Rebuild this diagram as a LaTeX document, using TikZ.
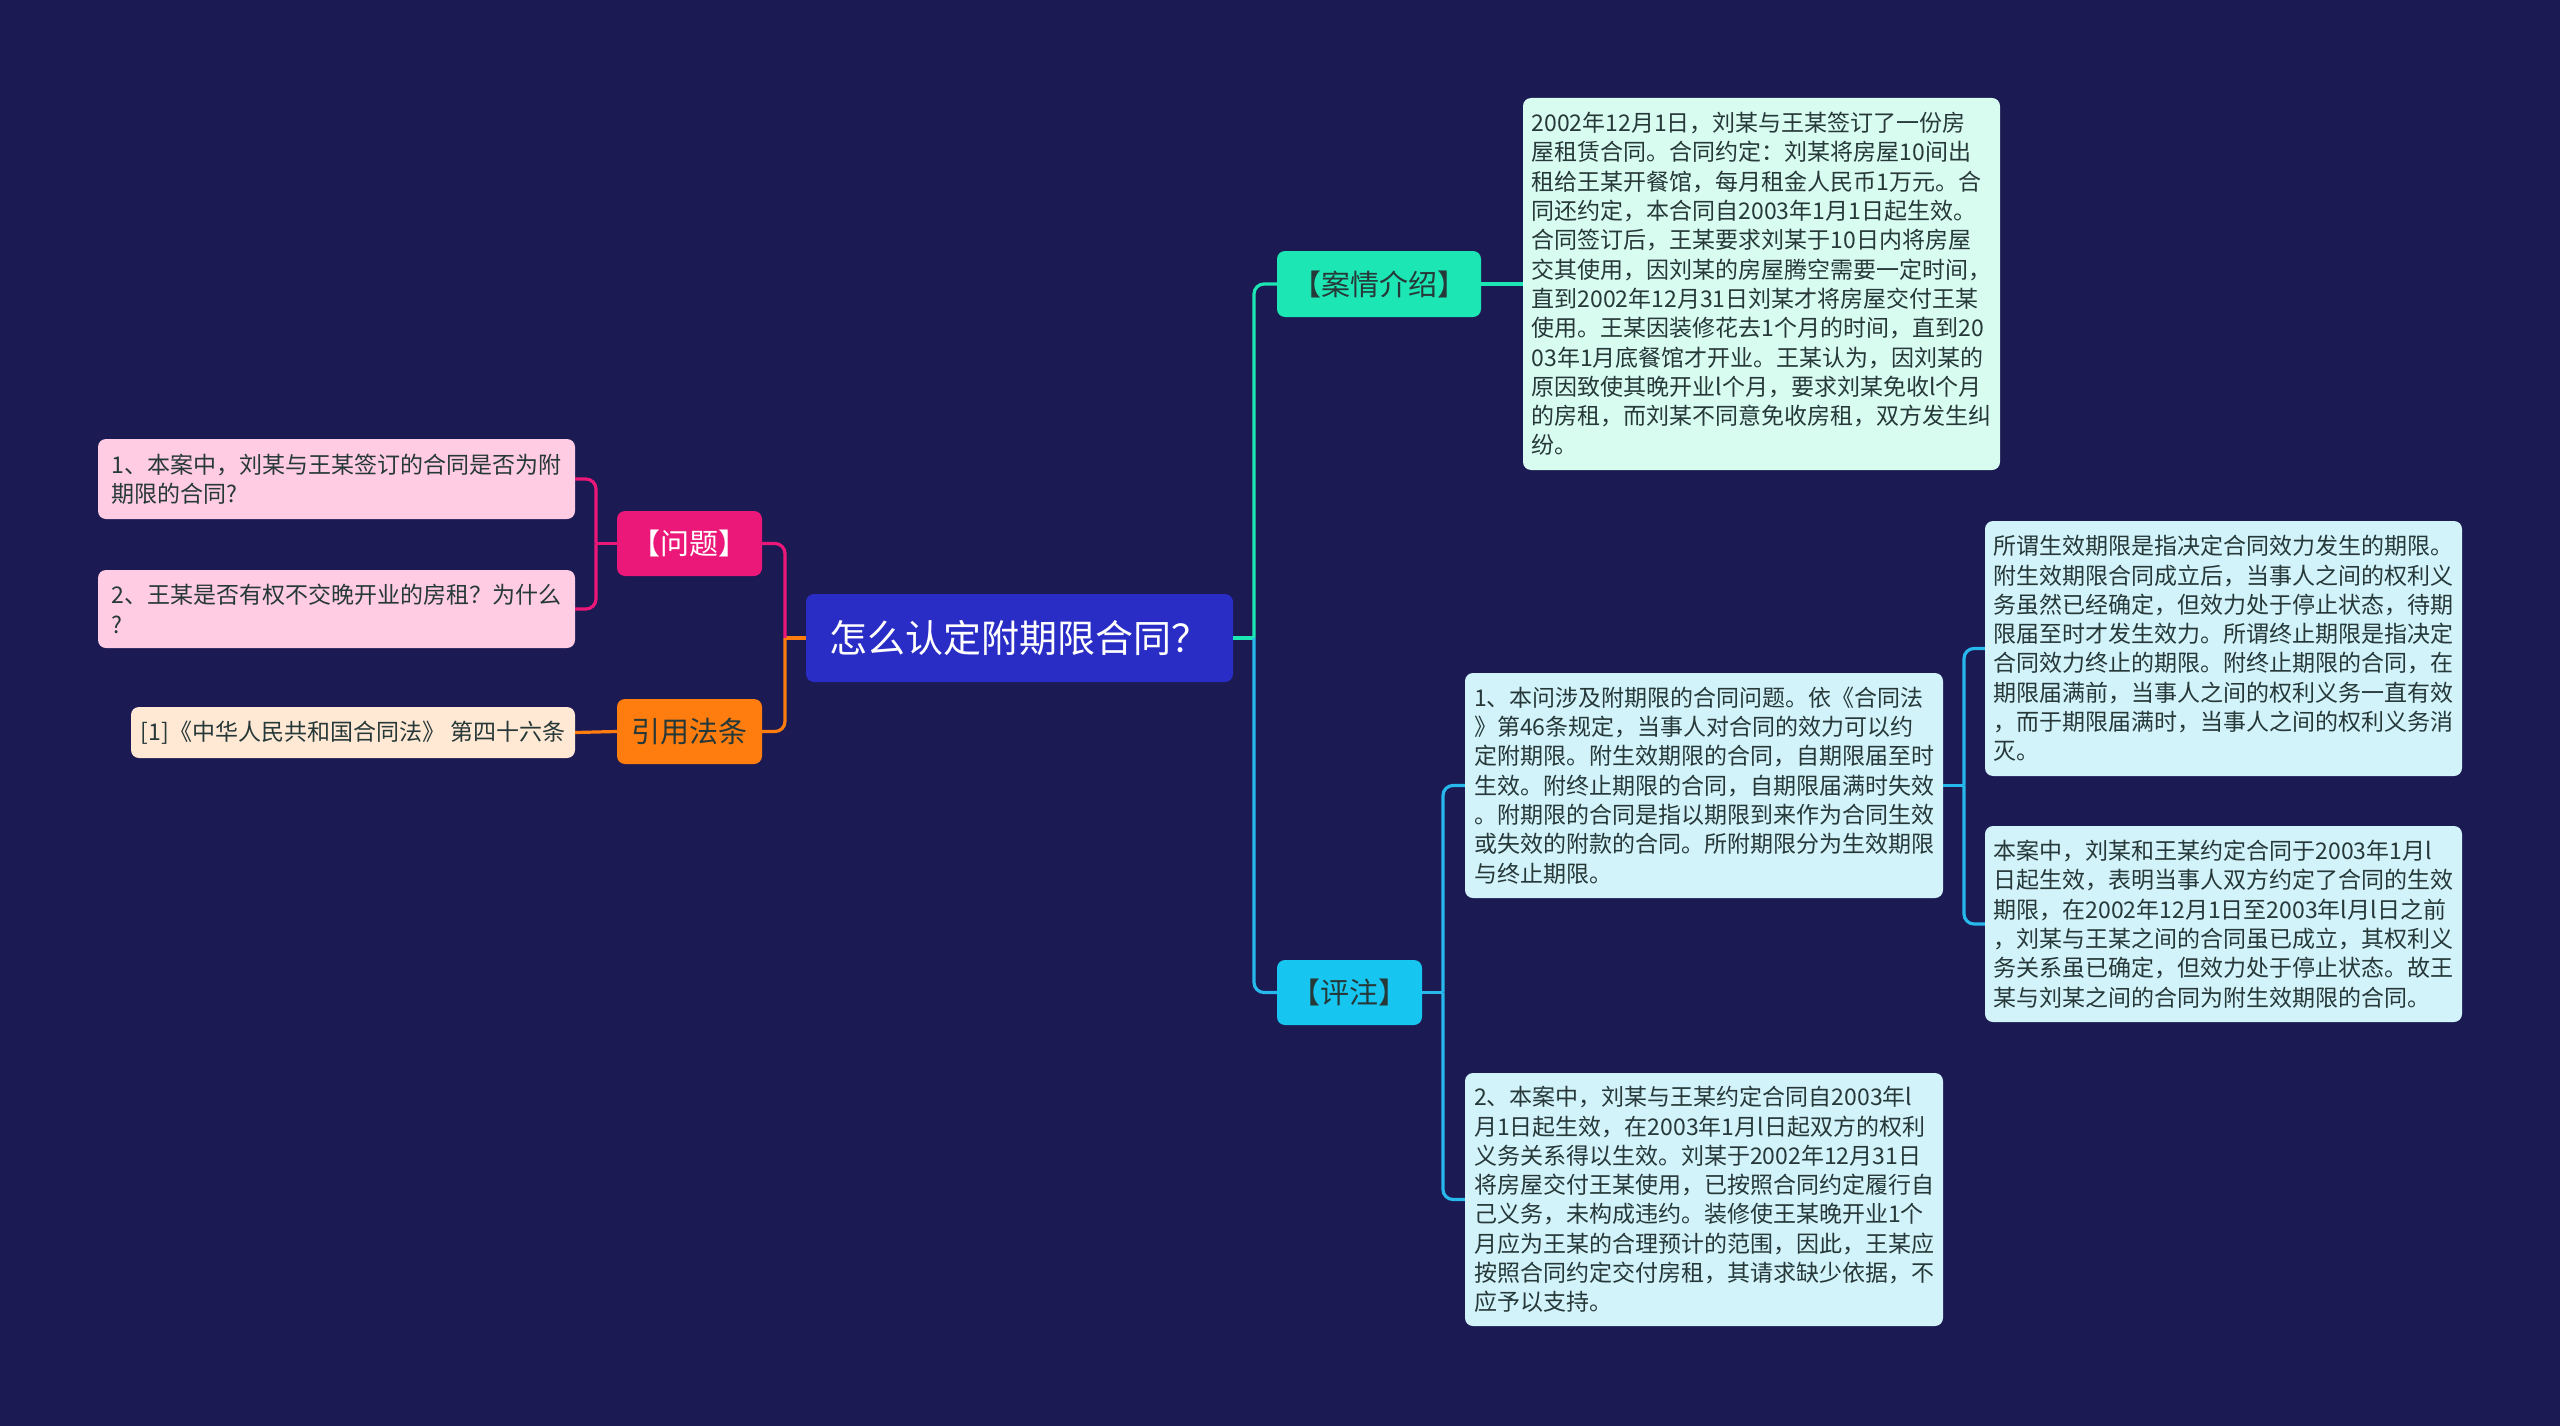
\documentclass[tikz,border=0pt]{standalone}
\usepackage{fontspec}
\setmainfont{Noto Sans CJK SC}

\definecolor{bgnavy}{HTML}{1B1A52}
\definecolor{rootblue}{HTML}{2A2DC5}
\definecolor{askpink}{HTML}{EC1879}
\definecolor{laworange}{HTML}{FF7D0F}
\definecolor{caseteal}{HTML}{1DE6B5}
\definecolor{notecyan}{HTML}{16C6F0}
\definecolor{notelink}{HTML}{27B8EC}
\definecolor{casebg}{HTML}{D9FCF1}
\definecolor{notebg}{HTML}{D3F3FB}
\definecolor{askbg}{HTML}{FFCCE3}
\definecolor{lawbg}{HTML}{FFE8D4}
\definecolor{inkdark}{HTML}{263838}

\begin{document}
\begin{tikzpicture}[
    x=1pt, y=-1pt,
    topic/.style={rounded corners=8pt, inner sep=0pt, minimum height=65pt,
                  font=\fontsize{29}{34}\selectfont},
    detail/.style={rounded corners=8pt, inner sep=0pt, align=left,
                   text=inkdark, font=\fontsize{23}{29.3}\selectfont},
    link/.style={line width=3.2pt, rounded corners=10pt}
  ]
  % background and page size
  \fill[bgnavy] (0,0) rectangle (2560,1426);
  \useasboundingbox (0,0) rectangle (2560,1426);

  % central topic
  \node[topic, fill=rootblue, text=white, minimum width=427pt, minimum height=88pt,
        font=\fontsize{38}{42}\selectfont] (root) at (1019.5,638) {怎么认定附期限合同？};

  % left side
  \node[topic, fill=askpink, text=white, minimum width=145pt] (ask) at (689.5,543.5) {【问题】};
  \node[topic, fill=laworange, text=inkdark, minimum width=145pt] (law) at (689.5,731.5) {引用法条};

  \node[detail, fill=askbg, minimum width=477pt, minimum height=80pt] (ask1) at (336.5,479)
    {1、本案中，刘某与王某签订的合同是否为附\\期限的合同?};
  \node[detail, fill=askbg, minimum width=477pt, minimum height=78pt] (ask2) at (336.5,609)
    {2、王某是否有权不交晚开业的房租？为什么\\?};
  \node[detail, fill=lawbg, minimum width=444pt, minimum height=51pt] (law1) at (353,732.5)
    {[1]《中华人民共和国合同法》 第四十六条};

  % right side
  \node[topic, fill=caseteal, text=inkdark, minimum width=204pt, minimum height=66pt] (intro) at (1379,284) {【案情介绍】};
  \node[topic, fill=notecyan, text=inkdark, minimum width=145pt] (note) at (1349.5,992.5) {【评注】};

  \node[detail, fill=casebg, minimum width=477pt, minimum height=372pt] (story) at (1761.5,284)
    {2002年12月1日，刘某与王某签订了一份房\\
     屋租赁合同。合同约定：刘某将房屋10间出\\
     租给王某开餐馆，每月租金人民币1万元。合\\
     同还约定，本合同自2003年1月1日起生效。\\
     合同签订后，王某要求刘某于10日内将房屋\\
     交其使用，因刘某的房屋腾空需要一定时间，\\
     直到2002年12月31日刘某才将房屋交付王某\\
     使用。王某因装修花去1个月的时间，直到20\\
     03年1月底餐馆才开业。王某认为，因刘某的\\
     原因致使其晚开业l个月，要求刘某免收l个月\\
     的房租，而刘某不同意免收房租，双方发生纠\\
     纷。};

  \node[detail, fill=notebg, minimum width=478pt, minimum height=225pt] (note1) at (1704,785.5)
    {1、本问涉及附期限的合同问题。依《合同法\\
     》第46条规定，当事人对合同的效力可以约\\
     定附期限。附生效期限的合同，自期限届至时\\
     生效。附终止期限的合同，自期限届满时失效\\
     。附期限的合同是指以期限到来作为合同生效\\
     或失效的附款的合同。所附期限分为生效期限\\
     与终止期限。};
  \node[detail, fill=notebg, minimum width=478pt, minimum height=253pt] (note2) at (1704,1199.5)
    {2、本案中，刘某与王某约定合同自2003年l\\
     月1日起生效，在2003年1月l日起双方的权利\\
     义务关系得以生效。刘某于2002年12月31日\\
     将房屋交付王某使用，已按照合同约定履行自\\
     己义务，未构成违约。装修使王某晚开业1个\\
     月应为王某的合理预计的范围，因此，王某应\\
     按照合同约定交付房租，其请求缺少依据，不\\
     应予以支持。};

  \node[detail, fill=notebg, minimum width=477pt, minimum height=255pt] (term1) at (2223.5,648.5)
    {所谓生效期限是指决定合同效力发生的期限。\\
     附生效期限合同成立后，当事人之间的权利义\\
     务虽然已经确定，但效力处于停止状态，待期\\
     限届至时才发生效力。所谓终止期限是指决定\\
     合同效力终止的期限。附终止期限的合同，在\\
     期限届满前，当事人之间的权利义务一直有效\\
     ，而于期限届满时，当事人之间的权利义务消\\
     灭。};
  \node[detail, fill=notebg, minimum width=477pt, minimum height=196pt] (term2) at (2223.5,924)
    {本案中，刘某和王某约定合同于2003年1月l\\
     日起生效，表明当事人双方约定了合同的生效\\
     期限，在2002年12月1日至2003年l月l日之前\\
     ，刘某与王某之间的合同虽已成立，其权利义\\
     务关系虽已确定，但效力处于停止状态。故王\\
     某与刘某之间的合同为附生效期限的合同。};

  % junction points
  \coordinate (rootR) at (1254,638);
  \coordinate (rootL) at (785,638);
  \coordinate (askJ)  at (596,543.5);
  \coordinate (noteJ) at (1443,992.5);
  \coordinate (termJ) at (1964,785.5);

  % connectors
  \draw[link, caseteal] (root.east) -- (rootR);
  \draw[link, caseteal] (rootR) |- (intro.west);
  \draw[link, notelink] (rootR) |- (note.west);
  \draw[link, caseteal] (intro.east) -- (story.west);

  \draw[link, notelink] (note.east) -- (noteJ);
  \draw[link, notelink] (noteJ) |- (note1.west);
  \draw[link, notelink] (noteJ) |- (note2.west);

  \draw[link, notelink] (note1.east) -- (termJ);
  \draw[link, notelink] (termJ) |- (term1.west);
  \draw[link, notelink] (termJ) |- (term2.west);

  \draw[link, laworange] (root.west) -- (rootL);
  \draw[link, askpink] (rootL) |- (ask.east);
  \draw[link, laworange] (rootL) |- (law.east);

  \draw[link, askpink] (ask.west) -- (askJ);
  \draw[link, askpink] (askJ) |- (ask1.east);
  \draw[link, askpink] (askJ) |- (ask2.east);
  \draw[link, laworange] (law.west) -- (law1.east);
\end{tikzpicture}
\end{document}
